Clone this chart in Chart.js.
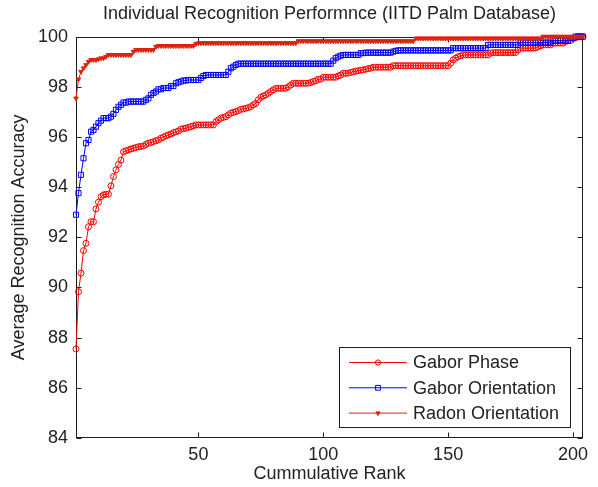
<!DOCTYPE html>
<html>
<head>
<meta charset="utf-8">
<script src="https://cdn.jsdelivr.net/npm/chart.js@4.4.1/dist/chart.umd.min.js"></script>
<style>
  html, body { margin: 0; padding: 0; background: #ffffff; }
  #wrap { width: 598px; height: 487px; }
</style>
</head>
<body>
<div id="wrap"><canvas id="c" width="598" height="487"></canvas></div>
<script>
// ---------------- DATA ----------------
const chartTitle = 'Individual Recognition Performnce (IITD Palm Database)';
const xAxisTitle = 'Cummulative Rank';
const yAxisTitle = 'Average Recognition Accuracy';
const seriesNames = ['Gabor Phase', 'Gabor Orientation', 'Radon Orientation'];
const xRange = [1, 204];
const yRange = [84, 100];
const xTicks = [50, 100, 150, 200];
const yTicks = [84, 86, 88, 90, 92, 94, 96, 98, 100];

// accuracy (%) at cumulative rank 1, 2, 3, ...
const gaborPhase = [
  87.55, 89.83, 90.57, 91.47, 91.76, 92.42, 92.62, 92.62, 93.13, 93.40,
  93.62, 93.69, 93.72, 93.72, 94.05, 94.42, 94.69, 94.90, 95.08, 95.41,
  95.45, 95.48, 95.52, 95.55, 95.58, 95.61, 95.62, 95.64, 95.70, 95.75,
  95.78, 95.81, 95.85, 95.88, 95.95, 95.99, 96.05, 96.08, 96.12, 96.17,
  96.20, 96.24, 96.31, 96.33, 96.35, 96.38, 96.41, 96.44, 96.48, 96.48,
  96.48, 96.48, 96.48, 96.48, 96.48, 96.48, 96.61, 96.68, 96.75, 96.78,
  96.81, 96.88, 96.95, 96.98, 97.01, 97.05, 97.10, 97.12, 97.14, 97.17,
  97.21, 97.28, 97.34, 97.48, 97.58, 97.63, 97.68, 97.74, 97.81, 97.88,
  97.94, 97.94, 97.94, 97.94, 97.94, 98.00, 98.07, 98.14, 98.14, 98.14,
  98.14, 98.14, 98.14, 98.14, 98.17, 98.21, 98.24, 98.30, 98.30, 98.38,
  98.38, 98.38, 98.38, 98.38, 98.38, 98.43, 98.47, 98.54, 98.54, 98.54,
  98.57, 98.60, 98.62, 98.64, 98.66, 98.67, 98.70, 98.72, 98.74, 98.78,
  98.78, 98.78, 98.78, 98.78, 98.78, 98.78, 98.78, 98.84, 98.84, 98.84,
  98.84, 98.84, 98.84, 98.84, 98.84, 98.84, 98.84, 98.84, 98.84, 98.84,
  98.84, 98.84, 98.84, 98.84, 98.84, 98.84, 98.84, 98.84, 98.84, 98.84,
  98.94, 99.07, 99.14, 99.20, 99.23, 99.27, 99.27, 99.27, 99.27, 99.27,
  99.27, 99.27, 99.27, 99.27, 99.27, 99.27, 99.34, 99.36, 99.36, 99.36,
  99.36, 99.36, 99.36, 99.36, 99.36, 99.36, 99.36, 99.47, 99.54, 99.54,
  99.54, 99.54, 99.54, 99.54, 99.54, 99.60, 99.63, 99.67, 99.67, 99.67,
  99.67, 99.74, 99.74, 99.74, 99.74, 99.74, 99.80, 99.84, 99.84, 99.94,
  99.94, 100.00, 100.00, 100.00
];

const gaborOrientation = [
  92.90, 93.76, 94.49, 95.15, 95.75, 95.88, 96.21, 96.28, 96.41, 96.55,
  96.65, 96.75, 96.75, 96.75, 96.81, 96.92, 97.08, 97.20, 97.28, 97.37,
  97.37, 97.41, 97.41, 97.41, 97.41, 97.41, 97.41, 97.41, 97.48, 97.54,
  97.68, 97.75, 97.81, 97.90, 97.90, 97.95, 97.95, 97.95, 98.03, 98.03,
  98.14, 98.18, 98.21, 98.25, 98.25, 98.27, 98.27, 98.27, 98.27, 98.27,
  98.35, 98.43, 98.47, 98.47, 98.47, 98.47, 98.47, 98.47, 98.47, 98.47,
  98.47, 98.60, 98.74, 98.80, 98.87, 98.92, 98.92, 98.92, 98.92, 98.92,
  98.92, 98.92, 98.92, 98.92, 98.92, 98.92, 98.92, 98.92, 98.92, 98.92,
  98.92, 98.92, 98.92, 98.92, 98.92, 98.92, 98.92, 98.92, 98.92, 98.92,
  98.92, 98.92, 98.92, 98.92, 98.92, 98.92, 98.92, 98.92, 98.92, 98.92,
  98.92, 98.92, 98.92, 99.04, 99.14, 99.20, 99.24, 99.27, 99.27, 99.27,
  99.27, 99.27, 99.27, 99.27, 99.34, 99.34, 99.36, 99.36, 99.36, 99.36,
  99.36, 99.36, 99.36, 99.36, 99.36, 99.36, 99.36, 99.40, 99.43, 99.45,
  99.45, 99.45, 99.45, 99.45, 99.45, 99.45, 99.45, 99.45, 99.45, 99.45,
  99.45, 99.45, 99.45, 99.45, 99.45, 99.45, 99.45, 99.45, 99.45, 99.45,
  99.45, 99.54, 99.54, 99.54, 99.54, 99.54, 99.54, 99.54, 99.54, 99.54,
  99.54, 99.54, 99.54, 99.54, 99.54, 99.67, 99.67, 99.67, 99.67, 99.67,
  99.67, 99.67, 99.67, 99.67, 99.67, 99.67, 99.67, 99.67, 99.76, 99.76,
  99.76, 99.76, 99.76, 99.76, 99.76, 99.76, 99.76, 99.76, 99.76, 99.76,
  99.76, 99.84, 99.84, 99.84, 99.84, 99.84, 99.84, 99.84, 99.94, 99.94,
  100.00, 100.00, 100.00, 100.00
];

const radonOrientation = [
  97.54, 98.30, 98.60, 98.74, 98.87, 99.00, 99.07, 99.07, 99.07, 99.10,
  99.14, 99.14, 99.20, 99.27, 99.27, 99.27, 99.27, 99.27, 99.27, 99.27,
  99.27, 99.27, 99.27, 99.40, 99.47, 99.47, 99.47, 99.47, 99.47, 99.47,
  99.47, 99.47, 99.60, 99.63, 99.63, 99.63, 99.63, 99.63, 99.63, 99.63,
  99.63, 99.63, 99.63, 99.63, 99.63, 99.63, 99.63, 99.63, 99.71, 99.74,
  99.74, 99.74, 99.74, 99.74, 99.74, 99.74, 99.74, 99.74, 99.74, 99.74,
  99.74, 99.74, 99.74, 99.74, 99.74, 99.74, 99.74, 99.74, 99.74, 99.74,
  99.74, 99.74, 99.74, 99.74, 99.74, 99.74, 99.74, 99.74, 99.74, 99.74,
  99.74, 99.74, 99.74, 99.74, 99.74, 99.74, 99.74, 99.74, 99.74, 99.82,
  99.82, 99.82, 99.82, 99.82, 99.82, 99.82, 99.82, 99.82, 99.82, 99.82,
  99.82, 99.82, 99.82, 99.82, 99.82, 99.82, 99.82, 99.82, 99.82, 99.82,
  99.82, 99.82, 99.82, 99.82, 99.82, 99.82, 99.82, 99.82, 99.82, 99.82,
  99.82, 99.82, 99.82, 99.82, 99.82, 99.82, 99.82, 99.82, 99.82, 99.82,
  99.82, 99.82, 99.82, 99.82, 99.82, 99.82, 99.93, 99.93, 99.93, 99.93,
  99.93, 99.93, 99.93, 99.93, 99.93, 99.93, 99.93, 99.93, 99.93, 99.93,
  99.93, 99.93, 99.93, 99.93, 99.93, 99.93, 99.93, 99.93, 99.93, 99.93,
  99.93, 99.93, 99.93, 99.93, 99.93, 99.93, 99.93, 99.93, 99.93, 99.93,
  99.93, 99.93, 99.93, 99.93, 99.93, 99.93, 99.93, 99.93, 99.93, 99.93,
  99.93, 99.93, 99.93, 99.93, 99.93, 99.93, 99.93, 100.00, 100.00, 100.00,
  100.00, 100.00, 100.00, 100.00, 100.00, 100.00, 100.00, 100.00, 100.00, 100.00,
  100.00, 100.00, 100.00, 100.00
];

// ---------------- STYLE ----------------
const FONT = '"Liberation Sans", Arial, Helvetica, sans-serif';
const TEXT = '#222222';
const AXIS = '#1e1e1e';
Chart.defaults.font.family = FONT;
Chart.defaults.color = TEXT;

const toPoints = arr => arr.map((v, i) => ({ x: i + 1, y: v }));

const axesPlugin = {
  id: 'matlabAxes',
  beforeDatasetsDraw(chart) {
    const { ctx, chartArea: a, scales } = chart;
    const L = Math.round(a.left) + 0.5, R = Math.round(a.right) - 0.5;
    const T = Math.round(a.top) + 0.5, B = Math.round(a.bottom) - 0.5;
    ctx.save();
    ctx.strokeStyle = AXIS;
    ctx.lineWidth = 1;
    ctx.strokeRect(L, T, R - L, B - T);
    const tl = 5;
    ctx.beginPath();
    scales.x.ticks.forEach(t => {
      const px = Math.round(scales.x.getPixelForValue(t.value)) + 0.5;
      ctx.moveTo(px, B); ctx.lineTo(px, B - tl);
      ctx.moveTo(px, T); ctx.lineTo(px, T + tl);
    });
    scales.y.ticks.forEach(t => {
      const py = Math.round(scales.y.getPixelForValue(t.value)) + 0.5;
      ctx.moveTo(L, py); ctx.lineTo(L + tl, py);
      ctx.moveTo(R, py); ctx.lineTo(R - tl, py);
    });
    ctx.stroke();
    ctx.restore();
  }
};

const legendPlugin = {
  id: 'boxLegend',
  afterDatasetsDraw(chart) {
    const { ctx, chartArea: a } = chart;
    const w = 231, h = 80;
    const x0 = Math.round(a.right - 13 - w), y0 = Math.round(a.bottom - 11 - h);
    ctx.save();
    ctx.fillStyle = '#ffffff';
    ctx.fillRect(x0, y0, w, h);
    ctx.strokeStyle = AXIS;
    ctx.lineWidth = 1;
    ctx.strokeRect(x0 + 0.5, y0 + 0.5, w, h);
    ctx.font = '18px ' + FONT;
    ctx.textBaseline = 'middle';
    ctx.textAlign = 'left';
    chart.data.datasets.forEach((ds, i) => {
      const y = y0 + 15.5 + i * 25.3;
      ctx.strokeStyle = ds.borderColor;
      ctx.lineWidth = 1;
      ctx.beginPath();
      ctx.moveTo(x0 + 10, y); ctx.lineTo(x0 + 68, y);
      ctx.stroke();
      ctx.fillStyle = ds.pointBackgroundColor;
      ctx.strokeStyle = ds.pointBorderColor;
      Chart.helpers.drawPoint(ctx, {
        pointStyle: ds.pointStyle,
        radius: ds.legendRadius,
        rotation: ds.pointRotation || 0,
        borderWidth: 1
      }, x0 + 39, y);
      ctx.fillStyle = TEXT;
      ctx.fillText(ds.label, x0 + 74, y + 1);
    });
    ctx.restore();
  }
};

const red = 'rgb(255,0,0)';
const blue = 'rgb(0,0,255)';
const red2 = 'rgb(218,36,14)';

new Chart(document.getElementById('c'), {
  type: 'line',
  data: {
    datasets: [
      {
        label: seriesNames[0], data: toPoints(gaborPhase),
        borderColor: red, borderWidth: 1, tension: 0, fill: false,
        pointStyle: 'circle', pointRadius: 3, pointBorderWidth: 1,
        pointBorderColor: red, pointBackgroundColor: 'rgba(0,0,0,0)',
        legendRadius: 2.6, order: 3, clip: 8
      },
      {
        label: seriesNames[1], data: toPoints(gaborOrientation),
        borderColor: blue, borderWidth: 1, tension: 0, fill: false,
        pointStyle: 'rect', pointRadius: 3.6, pointBorderWidth: 1,
        pointBorderColor: blue, pointBackgroundColor: 'rgba(0,0,0,0)',
        legendRadius: 3.4, order: 2, clip: 8
      },
      {
        label: seriesNames[2], data: toPoints(radonOrientation),
        borderColor: red2, borderWidth: 1, tension: 0, fill: false,
        pointStyle: 'triangle', pointRotation: 180, pointRadius: 2.6, pointBorderWidth: 1,
        pointBorderColor: red2, pointBackgroundColor: red2,
        legendRadius: 2.4, order: 1, clip: 8
      }
    ]
  },
  options: {
    responsive: false,
    animation: false,
    devicePixelRatio: 1,
    layout: { padding: { left: 0, right: 15, top: 0, bottom: 0 } },
    plugins: {
      legend: { display: false },
      tooltip: { enabled: false },
      title: {
        display: true, text: chartTitle, fullSize: false,
        color: TEXT, font: { size: 18, weight: 'normal', family: FONT },
        padding: { top: 3, bottom: 12 }
      }
    },
    scales: {
      x: {
        type: 'linear', min: xRange[0], max: xRange[1],
        grid: { display: false, drawTicks: false },
        border: { display: false },
        afterBuildTicks: s => { s.ticks = xTicks.map(v => ({ value: v })); },
        afterFit: s => { s.height = 49; },
        ticks: { font: { size: 18 }, color: TEXT, padding: 6, maxRotation: 0, autoSkip: false },
        title: { display: true, text: xAxisTitle, color: TEXT, font: { size: 18 }, padding: { top: 0, bottom: 2 } }
      },
      y: {
        type: 'linear', min: yRange[0], max: yRange[1],
        grid: { display: false, drawTicks: false },
        border: { display: false },
        afterBuildTicks: s => { s.ticks = yTicks.map(v => ({ value: v })); },
        afterFit: s => { s.width = 76; },
        ticks: { font: { size: 18 }, color: TEXT, padding: 8, autoSkip: false },
        title: { display: true, text: yAxisTitle, color: TEXT, font: { size: 18 }, padding: { top: 8, bottom: 0 } }
      }
    }
  },
  plugins: [axesPlugin, legendPlugin]
});
</script>
</body>
</html>
